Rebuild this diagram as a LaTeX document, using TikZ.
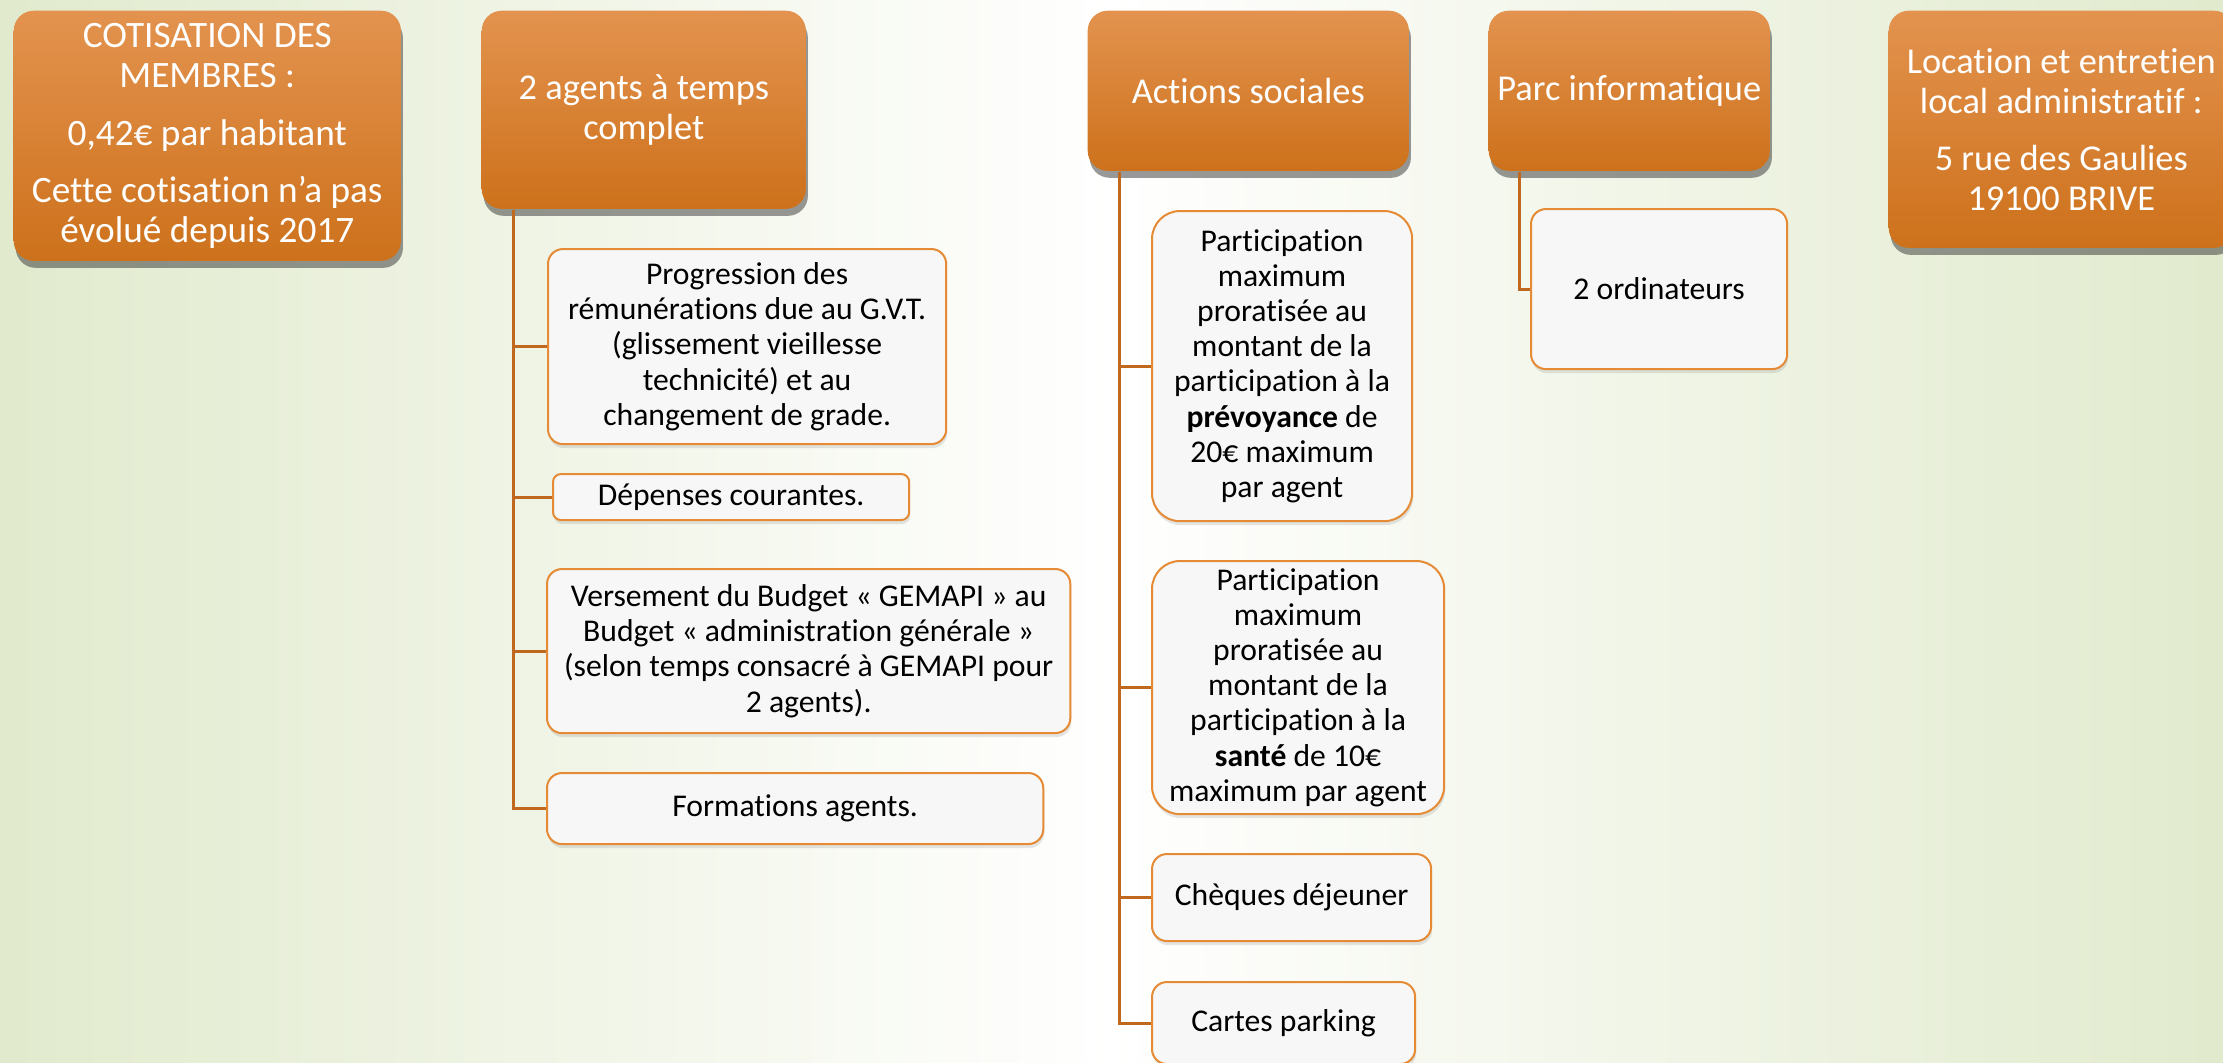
\documentclass[tikz,border=0pt]{standalone}
\usepackage{fontspec}
\setmainfont{Carlito}[Ligatures=NoCommon]
\usetikzlibrary{shadows}

\definecolor{hdtop}{HTML}{E3934F}
\definecolor{hdbot}{HTML}{CD711B}
\definecolor{linkc}{HTML}{C0681E}
\definecolor{boxline}{HTML}{E58A35}
\definecolor{bggreen}{HTML}{E1EACD}

\tikzset{
    head/.style={anchor=north west, inner sep=0pt, rounded corners=0.2cm,
        top color=hdtop, bottom color=hdbot, text=white, align=center,
        font=\fontsize{10.35}{11.4}\selectfont,
        drop shadow={shadow xshift=0.02cm, shadow yshift=-0.07cm, opacity=0.5, fill=black!80}},
    leaf/.style={anchor=north west, inner sep=0pt, rounded corners=0.15cm,
        draw=boxline, line width=0.02cm, fill=black!3, align=center,
        font=\fontsize{9}{10}\selectfont,
        drop shadow={shadow xshift=0.01cm, shadow yshift=-0.04cm, opacity=0.2}},
    link/.style={draw=linkc, line width=0.03cm}
}

\begin{document}
\begin{tikzpicture}[x=0.01cm, y=-0.01cm]
    \useasboundingbox (0,0) rectangle (2223,1062);
    \fill[left color=bggreen, right color=bggreen, middle color=white] (0,0) rectangle (2223,1062);

    \node[head, minimum width=3.87cm, minimum height=2.50cm, font=\fontsize{10.6}{11.2}\selectfont] (cotis) at (13,10)
        {COTISATION DES\\MEMBRES :\\[5.5pt]0,42€ par habitant\\[5pt]Cette cotisation n’a pas\\évolué depuis 2017};
    \node[head, minimum width=3.24cm, minimum height=1.98cm] (agents) at (481,10) {2 agents à temps\\complet};
    \node[head, minimum width=3.21cm, minimum height=1.60cm] (actions) at (1087,10) {Actions sociales};
    \node[head, minimum width=2.81cm, minimum height=1.60cm] (parc) at (1488,10) {Parc informatique};
    \node[head, minimum width=3.45cm, minimum height=2.37cm] (local) at (1888,10)
        {Location et entretien\\local administratif :\\[4.8pt]5 rue des Gaulies\\19100 BRIVE};

    \node[leaf, minimum width=3.98cm, minimum height=1.95cm] (prog) at (547,248)
        {Progression des\\rémunérations due au G.V.T.\\(glissement vieillesse\\technicité) et au\\changement de grade.};
    \node[leaf, minimum width=3.56cm, minimum height=0.46cm, rounded corners=0.08cm] (dep) at (552,473) {Dépenses courantes.};
    \node[leaf, minimum width=5.23cm, minimum height=1.64cm] (vers) at (546,568)
        {Versement du Budget « GEMAPI » au\\Budget « administration générale »\\(selon temps consacré à GEMAPI pour\\2 agents).};
    \node[leaf, minimum width=4.96cm, minimum height=0.71cm] (form) at (546,772) {Formations agents.};

    \node[leaf, minimum width=2.60cm, minimum height=3.10cm, rounded corners=0.28cm] (prev) at (1151,210)
        {Participation\\maximum\\proratisée au\\montant de la\\participation à la\\\textbf{prévoyance} de\\20€ maximum\\par agent};
    \node[leaf, minimum width=2.92cm, minimum height=2.53cm, rounded corners=0.28cm] (sante) at (1151,560)
        {Participation\\maximum\\proratisée au\\montant de la\\participation à la\\\textbf{santé} de 10€\\maximum par agent};
    \node[leaf, minimum width=2.79cm, minimum height=0.87cm] (cheq) at (1151,853) {Chèques déjeuner};
    \node[leaf, minimum width=2.63cm, minimum height=0.82cm] (cartes) at (1151,981) {Cartes parking};

    \node[leaf, minimum width=2.56cm, minimum height=1.60cm] (ordi) at (1530,208) {2 ordinateurs};

    \foreach \c in {prog,dep,vers,form}
        \draw[link] ([xshift=0.32cm]agents.south west) |- (\c.west);
    \foreach \c in {prev,sante,cheq,cartes}
        \draw[link] ([xshift=0.32cm]actions.south west) |- (\c.west);
    \draw[link] ([xshift=0.31cm]parc.south west) |- (ordi.west);

\end{tikzpicture}
\end{document}
